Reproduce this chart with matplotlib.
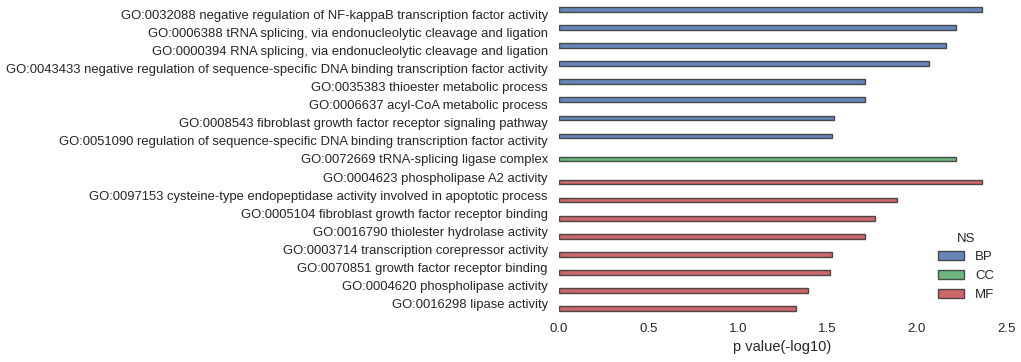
"""
GO enrichment bar chart, -log10 p values per term, coloured by namespace
"""
import matplotlib
matplotlib.use("Agg")
import matplotlib.pyplot as plt
import numpy as np

terms = [
    "GO:0032088 negative regulation of NF-kappaB transcription factor activity",
    "GO:0006388 tRNA splicing, via endonucleolytic cleavage and ligation",
    "GO:0000394 RNA splicing, via endonucleolytic cleavage and ligation",
    "GO:0043433 negative regulation of sequence-specific DNA binding transcription factor activity",
    "GO:0035383 thioester metabolic process",
    "GO:0006637 acyl-CoA metabolic process",
    "GO:0008543 fibroblast growth factor receptor signaling pathway",
    "GO:0051090 regulation of sequence-specific DNA binding transcription factor activity",
    "GO:0072669 tRNA-splicing ligase complex",
    "GO:0004623 phospholipase A2 activity",
    "GO:0097153 cysteine-type endopeptidase activity involved in apoptotic process",
    "GO:0005104 fibroblast growth factor receptor binding",
    "GO:0016790 thiolester hydrolase activity",
    "GO:0003714 transcription corepressor activity",
    "GO:0070851 growth factor receptor binding",
    "GO:0004620 phospholipase activity",
    "GO:0016298 lipase activity",
]
pvals = [2.366, 2.22, 2.165, 2.07, 1.711, 1.711, 1.536, 1.527,
         2.22,
         2.366, 1.89, 1.767, 1.711, 1.527, 1.516, 1.393, 1.326]
ns = ["BP"] * 8 + ["CC"] + ["MF"] * 8

hue_order = ["BP", "CC", "MF"]
colors = {"BP": "#4C72B0", "CC": "#55A868", "MF": "#C44E52"}

plt.rcParams["font.family"] = ["Liberation Sans", "DejaVu Sans"]
plt.rcParams["text.color"] = ".15"
plt.rcParams["axes.labelcolor"] = ".15"
plt.rcParams["xtick.color"] = ".15"
plt.rcParams["ytick.color"] = ".15"

fig = plt.figure(figsize=(10.21, 3.62), dpi=100)
ax = fig.add_axes([559 / 1021, 49 / 362, 447 / 1021, 308 / 362])

w = 0.8 / len(hue_order)
y = np.arange(len(terms))
for h_i, h in enumerate(hue_order):
    idx = [i for i, n in enumerate(ns) if n == h]
    ax.barh(y[idx] + (h_i - 1) * w, [pvals[i] for i in idx], height=w,
            color=colors[h], edgecolor=".2", linewidth=1.0, alpha=0.85,
            label=h)

ax.set_yticks(y)
ax.set_yticklabels(terms, fontsize=9.4)
ax.set_ylim(len(terms) - 0.5, -0.5)
ax.set_xlim(0, 2.5)
ax.set_xticks([0.0, 0.5, 1.0, 1.5, 2.0, 2.5])
ax.set_xticklabels(["0.0", "0.5", "1.0", "1.5", "2.0", "2.5"], fontsize=9.5)
ax.tick_params(axis="y", length=0, pad=8)
ax.tick_params(axis="x", length=0, pad=7)
ax.set_xlabel("p value(-log10)", fontsize=10.5, labelpad=4)
for s in ax.spines.values():
    s.set_visible(False)

leg = ax.legend(title="NS", loc="lower right", frameon=False, fontsize=9.5,
                title_fontsize=9.5, bbox_to_anchor=(1.0, 0.0))

fig.savefig("out.png", dpi=100)
